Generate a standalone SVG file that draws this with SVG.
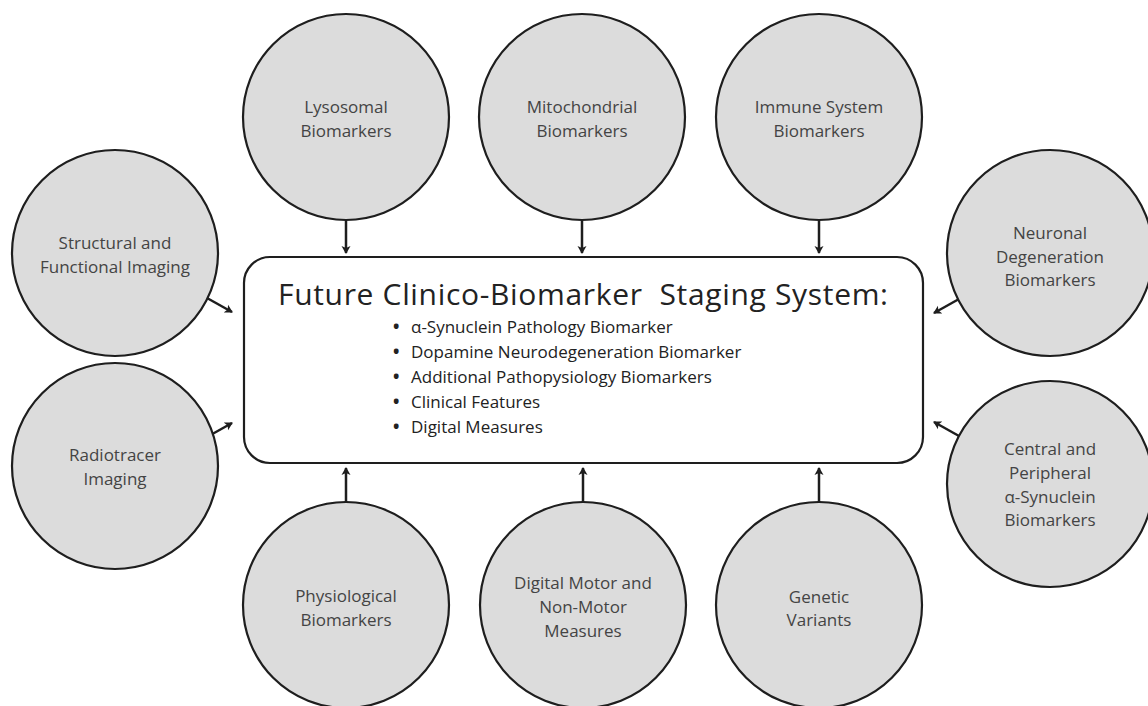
<svg xmlns="http://www.w3.org/2000/svg" width="1148" height="706" viewBox="0 0 1148 706">
<style>
.c{fill:#dcdcdc;stroke:#1e1e1e;stroke-width:2.2}
.t{font-family:"Open Sans","Noto Sans",sans-serif;font-size:17px;fill:#444;text-anchor:middle}
.a{stroke:#1e1e1e;stroke-width:2.5;fill:none;marker-end:url(#ah)}
.h{font-family:"Open Sans","Noto Sans",sans-serif;font-size:30px;fill:#222;white-space:pre}
.b{font-family:"Open Sans","Noto Sans",sans-serif;font-size:17px;fill:#222}
.d{font-weight:700}
</style>
<defs>
<marker id="ah" markerWidth="10" markerHeight="10" refX="7" refY="5" orient="auto" markerUnits="userSpaceOnUse">
<path d="M0,0.5 L8,5 L0,9.5 L2,5 Z" fill="#1e1e1e"/>
</marker>
</defs>
<rect width="1148" height="706" fill="#fff"/>
<g id="connectors">
<line class="a" x1="346" y1="221" x2="346" y2="253"/>
<line class="a" x1="582" y1="221" x2="582" y2="253"/>
<line class="a" x1="819" y1="221" x2="819" y2="253"/>
<line class="a" x1="207" y1="298" x2="232" y2="312"/>
<line class="a" x1="207" y1="437" x2="232" y2="423"/>
<line class="a" x1="959" y1="299" x2="934" y2="313"/>
<line class="a" x1="959" y1="436" x2="934" y2="422"/>
<line class="a" x1="346" y1="502" x2="346" y2="468"/>
<line class="a" x1="583" y1="502" x2="583" y2="468"/>
<line class="a" x1="819" y1="502" x2="819" y2="468"/>
</g>
<g id="center">
<rect x="244" y="257" width="679" height="206" rx="26" fill="#fff" stroke="#1e1e1e" stroke-width="2.2"/>
<text class="h" x="278" y="305" textLength="610" lengthAdjust="spacing" xml:space="preserve">Future Clinico-Biomarker  Staging System:</text>
<text class="b" x="393" y="333"><tspan class="d">•</tspan><tspan x="411">α-Synuclein Pathology Biomarker</tspan></text>
<text class="b" x="393" y="358"><tspan class="d">•</tspan><tspan x="411">Dopamine Neurodegeneration Biomarker</tspan></text>
<text class="b" x="393" y="383"><tspan class="d">•</tspan><tspan x="411">Additional Pathopysiology Biomarkers</tspan></text>
<text class="b" x="393" y="408"><tspan class="d">•</tspan><tspan x="411">Clinical Features</tspan></text>
<text class="b" x="393" y="433"><tspan class="d">•</tspan><tspan x="411">Digital Measures</tspan></text>
</g>
<g id="lysosomal"><circle class="c" cx="346" cy="117" r="103"/><text class="t" x="346" y="113">Lysosomal</text><text class="t" x="346" y="137">Biomarkers</text></g>
<g id="mitochondrial"><circle class="c" cx="582" cy="117" r="103"/><text class="t" x="582" y="113">Mitochondrial</text><text class="t" x="582" y="137">Biomarkers</text></g>
<g id="immune"><circle class="c" cx="819" cy="117" r="103"/><text class="t" x="819" y="113">Immune System</text><text class="t" x="819" y="137">Biomarkers</text></g>
<g id="structural"><circle class="c" cx="115" cy="253" r="103"/><text class="t" x="115" y="249">Structural and</text><text class="t" x="115" y="273">Functional Imaging</text></g>
<g id="radiotracer"><circle class="c" cx="115" cy="466" r="103"/><text class="t" x="115" y="461">Radiotracer</text><text class="t" x="115" y="485">Imaging</text></g>
<g id="neuronal"><circle class="c" cx="1050" cy="253" r="103"/><text class="t" x="1050" y="239">Neuronal</text><text class="t" x="1050" y="263">Degeneration</text><text class="t" x="1050" y="286">Biomarkers</text></g>
<g id="synuclein"><circle class="c" cx="1050" cy="484" r="103"/><text class="t" x="1050" y="455">Central and</text><text class="t" x="1050" y="479">Peripheral</text><text class="t" x="1050" y="503">α-Synuclein</text><text class="t" x="1050" y="526">Biomarkers</text></g>
<g id="physiological"><circle class="c" cx="346" cy="605" r="103"/><text class="t" x="346" y="602">Physiological</text><text class="t" x="346" y="626">Biomarkers</text></g>
<g id="digital"><circle class="c" cx="583" cy="605" r="103"/><text class="t" x="583" y="589">Digital Motor and</text><text class="t" x="583" y="613">Non-Motor</text><text class="t" x="583" y="637">Measures</text></g>
<g id="genetic"><circle class="c" cx="819" cy="605" r="103"/><text class="t" x="819" y="603">Genetic</text><text class="t" x="819" y="626">Variants</text></g>
</svg>
